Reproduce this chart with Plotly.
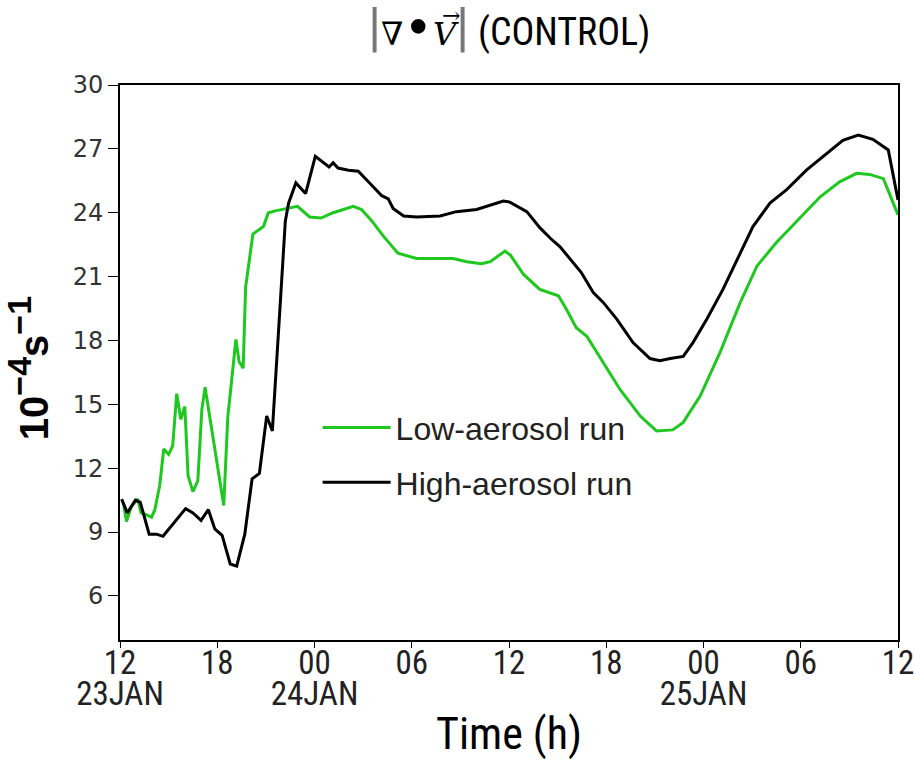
import plotly.graph_objects as go

# hours since 12Z 23 JAN
low_t = [0.2, 0.4, 0.7, 1.1, 1.3, 1.5, 1.95, 2.15, 2.45, 2.7,
         3.0, 3.25, 3.5, 3.75, 4.0, 4.2, 4.5, 4.8, 5.05, 5.25,
         6.4, 6.65, 6.85, 7.15, 7.35, 7.6, 7.75, 8.2, 8.85, 9.15,
         9.65, 10.3, 10.95, 11.7, 12.4, 13.15, 13.8, 14.4, 14.9, 15.5,
         16.25, 17.15, 18.3, 19.75, 20.55, 21.4, 22.3, 22.85, 23.75, 24.1,
         24.9, 25.9, 26.3, 27.05, 27.55, 28.15, 28.8, 29.8, 30.85, 32.1,
         33.1, 34.1, 34.75, 35.8, 37.0, 38.25, 39.3, 40.5, 41.75, 43.2,
         44.4, 45.45, 46.25, 47.1, 48.0]
low_v = [10.4, 9.5, 10.2, 10.55, 9.9, 9.85, 9.7, 10.05, 11.2, 12.9,
         12.65, 13.05, 15.5, 14.3, 14.9, 11.65, 10.9, 11.4, 14.75, 15.8,
         10.25, 14.4, 15.85, 18.05, 17.0, 16.7, 20.5, 23.0, 23.35, 24.0,
         24.1, 24.2, 24.3, 23.8, 23.75, 24.0, 24.15, 24.3, 24.15, 23.65,
         22.9, 22.1, 21.85, 21.85, 21.85, 21.7, 21.6, 21.7, 22.2, 22.0,
         21.1, 20.4, 20.3, 20.1, 19.45, 18.6, 18.2, 16.95, 15.7, 14.45,
         13.75, 13.8, 14.15, 15.4, 17.4, 19.75, 21.5, 22.6, 23.6, 24.75,
         25.45, 25.85, 25.8, 25.6, 23.9]

high_t = [0.1, 0.45, 0.95, 1.25, 1.8, 2.25, 2.65, 4.05, 4.5, 5.0,
          5.45, 5.85, 6.3, 6.8, 7.2, 7.7, 8.15, 8.6, 9.05, 9.4,
          10.2, 10.4, 10.85, 11.45, 12.05, 12.9, 13.15, 13.45, 14.1, 14.7,
          15.4, 16.15, 16.55, 16.85, 17.5, 18.3, 19.75, 20.75, 22.0, 22.85,
          23.65, 24.05, 25.1, 25.9, 26.55, 27.15, 28.45, 29.2, 29.8, 30.65,
          31.65, 32.7, 33.3, 33.95, 34.75, 35.35, 36.2, 37.2, 38.25, 39.05,
          40.1, 41.15, 42.35, 43.6, 44.6, 45.55, 46.45, 47.4, 48.0]
high_v = [10.55, 9.9, 10.5, 10.4, 8.9, 8.9, 8.8, 10.1, 9.9, 9.55,
          10.05, 9.15, 8.85, 7.5, 7.4, 8.9, 11.5, 11.75, 14.45, 13.75,
          23.6, 24.45, 25.4, 24.9, 26.65, 26.15, 26.35, 26.1, 26.0, 25.95,
          25.4, 24.8, 24.65, 24.2, 23.85, 23.8, 23.85, 24.05, 24.15, 24.35,
          24.55, 24.5, 24.05, 23.3, 22.8, 22.4, 21.2, 20.25, 19.8, 19.0,
          17.9, 17.15, 17.05, 17.15, 17.25, 17.9, 19.0, 20.4, 22.1, 23.35,
          24.45, 25.1, 26.0, 26.8, 27.4, 27.65, 27.45, 26.95, 24.6]

hour_ticks = [0, 6, 12, 18, 24, 30, 36, 42, 48]
hour_labels = ['12', '18', '00', '06', '12', '18', '00', '06', '12']
day_ticks = [0, 12, 36]
day_labels = ['23JAN', '24JAN', '25JAN']
y_ticks = [6, 9, 12, 15, 18, 21, 24, 27, 30]

GREEN = '#1fc81f'
NARROW = 'Roboto Condensed, Liberation Sans Narrow, Arial Narrow, sans-serif'
SERIF = 'DejaVu Serif, Liberation Serif, serif'

bar = '<span style="font-size:54px;color:#777">|</span>'
title_txt = (bar
             + f'<span style="font-family:{SERIF};font-size:32px">\u2207</span>'
             + f'<span style="font-family:{SERIF};font-size:50px">\u2022</span>'
             + f'<span style="font-family:{SERIF};font-size:32px"><i>V</i></span>'
             + bar + ' (CONTROL)')
ytitle = ('<b>10<sup><span style="font-size:34px">\u22124</span></sup>'
          's<sup><span style="font-size:34px">\u22121</span></sup>\u00a0</b>')

fig = go.Figure()
fig.add_trace(go.Scatter(x=low_t, y=low_v, mode='lines', name='Low-aerosol run',
                         line=dict(color=GREEN, width=3), legendgroup='a'))
fig.add_trace(go.Scatter(x=high_t, y=high_v, mode='lines', name='High-aerosol run',
                         line=dict(color='black', width=3), legendgroup='b'))
# empty trace so the date axis is drawn
fig.add_trace(go.Scatter(x=[], y=[], xaxis='x2', showlegend=False, hoverinfo='skip'))

fig.update_layout(
    width=914, height=760,
    margin=dict(l=120, r=16, t=85, b=120, autoexpand=False),
    paper_bgcolor='white', plot_bgcolor='white',
    title=dict(text=title_txt, x=0.557, xanchor='center', y=0.958, yanchor='middle',
               font=dict(family=NARROW, size=38, color='black')),
    legend=dict(x=0.254, y=0.432, xanchor='left', yanchor='top',
                bgcolor='rgba(0,0,0,0)', itemwidth=68,
                tracegroupgap=10, traceorder='grouped',
                font=dict(family='Liberation Sans, Arial, sans-serif', size=32, color='#222')),
    xaxis2=dict(overlaying='x', matches='x', side='bottom', range=[0, 48],
                tickvals=day_ticks, ticktext=day_labels, ticks='', showline=False,
                showgrid=False, zeroline=False, ticklabelstandoff=31,
                tickfont=dict(family=NARROW, size=33, color='#222')),
    annotations=[dict(text='\u2192', xref='paper', yref='paper', x=0.425, y=1.125,
                      yanchor='middle', showarrow=False,
                      font=dict(family=SERIF, size=22, color='black'))],
)
fig.update_xaxes(range=[0, 48], tickvals=hour_ticks, ticktext=hour_labels,
                 showline=True, mirror=True, linecolor='black', linewidth=2,
                 ticks='outside', ticklen=6, tickcolor='black', showgrid=False, zeroline=False,
                 automargin=False, ticklabelstandoff=-14, ticklabeloverflow='allow',
                 tickfont=dict(family=NARROW, size=33, color='#222'),
                 title=dict(text='Time (h)', font=dict(family=NARROW, size=44, color='black'),
                            standoff=56),
                 selector=lambda ax: ax.overlaying is None)
fig.update_yaxes(
    range=[3.93, 30], tickvals=y_ticks,
    showline=True, mirror=True, linecolor='black', linewidth=2,
    ticks='outside', ticklen=10, tickcolor='black', showgrid=False, zeroline=False,
    automargin=False,
    tickfont=dict(family='DejaVu Sans, sans-serif', size=24, color='#333'),
    title=dict(text=ytitle,
               font=dict(family='Liberation Sans, Arial, sans-serif', size=40, color='black'),
               standoff=12),
)

fig.write_html('out.html', config=dict(displayModeBar=False),
               post_script="document.body.style.margin='0px';")
